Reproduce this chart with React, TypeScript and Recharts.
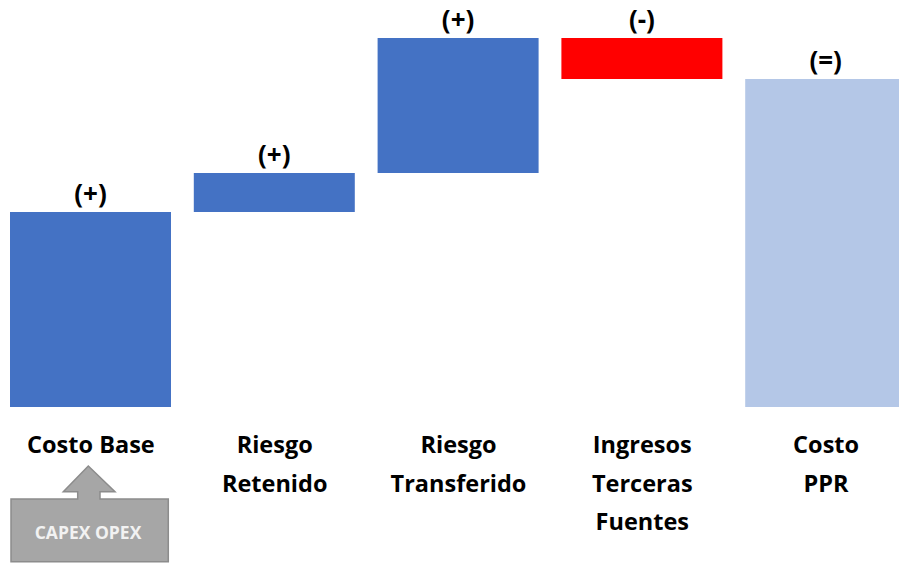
import { BarChart, Bar, XAxis, YAxis, Cell, LabelList } from "recharts";

const categories = [
  "Costo Base",
  "Riesgo\nRetenido",
  "Riesgo\nTransferido",
  "Ingresos\nTerceras\nFuentes",
  "Costo\nPPR",
];
// change per step; the last one is the resulting total
const values = [195, 39, 135, -41, 328];
const isTotal = [false, false, false, false, true];
const signs = ["(+)", "(+)", "(+)", "(-)", "(=)"];
const colors = ["#4472C4", "#4472C4", "#4472C4", "#FF0000", "#B4C7E7"];

let running = 0;
const data = categories.map((name, i) => {
  const v = values[i];
  let base = 0;
  let size = v;
  if (isTotal[i]) {
    base = 0;
  } else if (v >= 0) {
    base = running;
    running += v;
  } else {
    running += v;
    base = running;
    size = -v;
  }
  return { name, base, size, sign: signs[i] };
});

const FONT = "'Open Sans', Lato, sans-serif";

function CategoryTick({ x, y, payload }: any) {
  const lines = String(payload.value).split("\n");
  return (
    <text x={x} y={y + 38} textAnchor="middle" fill="#000" fontFamily={FONT} fontWeight={700} fontSize={23.5}>
      {lines.map((l, i) => (
        <tspan key={i} x={x} dy={i === 0 ? 0 : 38.5}>
          {l}
        </tspan>
      ))}
    </text>
  );
}

export default function App() {
  return (
    <div style={{ position: "absolute", left: 0, top: 0, width: 899, height: 565, overflow: "hidden", background: "#fff" }}>
      <BarChart width={918} height={565} data={data} margin={{ top: 38, right: 0, bottom: 0, left: -1 }}>
        <XAxis
          dataKey="name"
          height={158}
          axisLine={false}
          tickLine={false}
          interval={0}
          tick={<CategoryTick />}
        />
        <YAxis hide domain={[0, "dataMax"]} />
        <Bar dataKey="base" stackId="w" fill="transparent" barSize={161} isAnimationActive={false} />
        <Bar dataKey="size" stackId="w" barSize={161} isAnimationActive={false}>
          {data.map((d, i) => (
            <Cell key={d.name} fill={colors[i]} />
          ))}
          <LabelList
            dataKey="sign"
            position="top"
            offset={9}
            fill="#000"
            fontFamily={FONT}
            fontWeight={700}
            fontSize={26}
          />
        </Bar>
      </BarChart>
      <svg width={899} height={565} style={{ position: "absolute", left: 0, top: 0, pointerEvents: "none" }}>
        <path
          d="M11,499 L77.7,499 L77.7,491.7 L63.3,491.7 L88.3,466 L115,491.7 L100,491.7 L100,499 L168.3,499 L168.3,561.7 L11,561.7 Z"
          fill="#A6A6A6"
          stroke="#8C8C8C"
          strokeWidth={1.5}
        />
        <text x={88} y={539} textAnchor="middle" fill="#F2F2F2" fontFamily={FONT} fontWeight={700} fontSize={17.5}>
          CAPEX OPEX
        </text>
      </svg>
    </div>
  );
}
